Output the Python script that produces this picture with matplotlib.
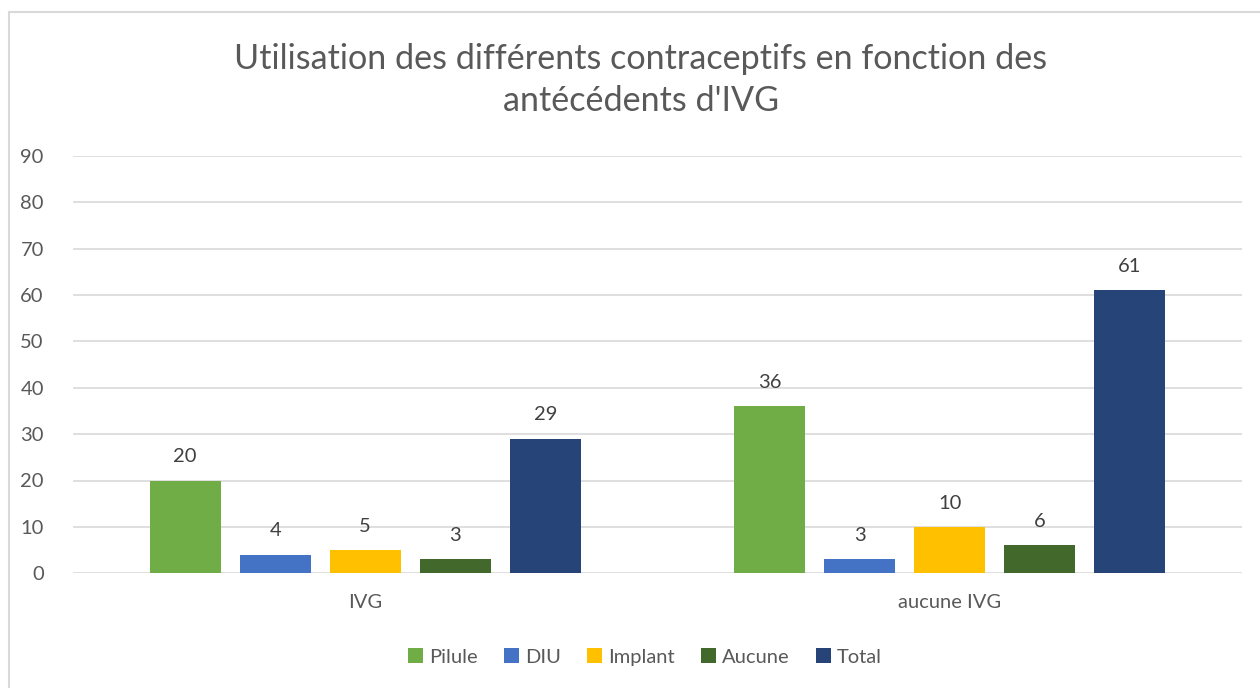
import matplotlib
matplotlib.use("Agg")
import matplotlib.pyplot as plt
import numpy as np
from matplotlib.patches import Rectangle

plt.rcParams['font.family'] = ['Lato', 'DejaVu Sans']

categories = ["IVG", "aucune IVG"]
series_names = ["Pilule", "DIU", "Implant", "Aucune", "Total"]
pilule = [20, 36]
diu = [4, 3]
implant = [5, 10]
aucune = [3, 6]
total = [29, 61]
values = [pilule, diu, implant, aucune, total]
colors = ["#70AD47", "#4472C4", "#FFC000", "#43682B", "#264478"]
yticks = list(range(0, 100, 10))
title = "Utilisation des différents contraceptifs en fonction des\nantécédents d'IVG"

W, H = 1260, 688
fig = plt.figure(figsize=(W / 100, H / 100), dpi=100)
# chart border (only left and top visible in the crop)
fig.patches.append(Rectangle((9 / W, -0.2), 1.2, 1.2 - 11.5 / H, transform=fig.transFigure,
                             fill=False, edgecolor="#D9D9D9", linewidth=1.5))

x0, x1 = 73, 1242
y0, y1 = 573.3, 155.7
ax = fig.add_axes([x0 / W, 1 - y0 / H, (x1 - x0) / W, (y0 - y1) / H])
ax.set_xlim(-0.5, 1.5)
ax.set_ylim(0, 90)

x = np.arange(len(categories))
bw = 71 / 584.5
step = 90 / 584.5
for i, (name, vals, c) in enumerate(zip(series_names, values, colors)):
    pos = x + (i - 2) * step
    ax.bar(pos, vals, width=bw, color=c, label=name, zorder=3)
    for p, v in zip(pos, vals):
        ax.annotate(str(v), (p, v), xytext=(0, 11), textcoords="offset points",
                    ha="center", va="bottom", fontsize=14.5, color="#404040")

ax.set_yticks(yticks)
ax.set_xticks(x)
ax.set_xticklabels(categories)
ax.tick_params(axis="both", length=0, labelsize=14.5, labelcolor="#595959")
ax.tick_params(axis="y", pad=21)
ax.tick_params(axis="x", pad=15)
ax.grid(axis="y", color="#D9D9D9", linewidth=1.2, zorder=0)
for s in ax.spines.values():
    s.set_visible(False)

fig.text(641 / W, 1 - 80 / H, title, ha="center", va="center", fontsize=24.6,
         color="#595959", linespacing=1.38)

handles, labels = ax.get_legend_handles_labels()
fig.legend(handles, labels, loc="center", bbox_to_anchor=(645 / W, 1 - 657 / H), ncol=5,
           frameon=False, fontsize=14.5, labelcolor="#595959", handlelength=0.75,
           handleheight=0.75, handletextpad=0.3, columnspacing=1.3)

fig.savefig("out.png", dpi=100)
